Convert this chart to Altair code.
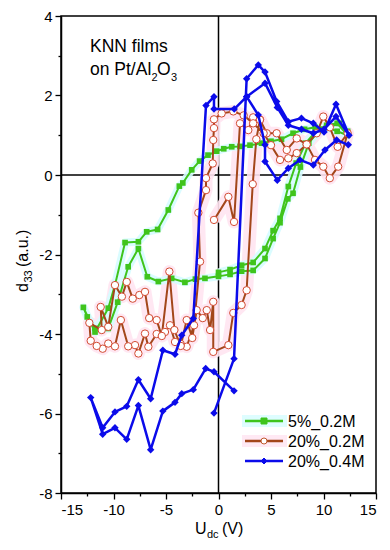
import altair as alt
import pandas as pd

# ---------------- data ----------------
# 5%_0.2M (green squares)
green_x = [0.0, 1.1, 2.2, 3.3, 4.43, 5.2, 5.86, 6.65, 7.4, 8.3, 9.3, 10.3, 11.3, 12.3,
           11.3, 10.3, 9.2, 8.2, 7.1, 6.0, 5.0, 4.1, 3.0, 2.05, 1.26, 0.5, -0.17, -1.0, -1.8,
           -2.55, -3.4, -3.73, -4.78, -5.8, -6.84, -7.63, -8.9, -9.86, -10.5, -11.76, -12.87,
           -12.5, -11.76, -10.5, -9.6, -8.6, -7.63, -6.78, -5.73, -4.46, -3.2, -2.2, -1.29,
           0.0, 1.1, 2.2, 3.3, 4.43, 5.2, 5.86, 6.6, 7.1, 7.8, 8.6, 9.5, 10.5, 11.5, 12.3]
green_y = [-2.45, -2.38, -2.27, -2.2, -1.85, -1.4, -1.09, -0.29, 0.3, 0.8, 1.1, 1.25, 1.3, 1.0,
           1.1, 1.2, 1.2, 1.15, 1.05, 0.9, 0.85, 0.8, 0.75, 0.72, 0.71, 0.66, 0.6, 0.5, 0.35,
           0.13, -0.2, -0.28, -0.88, -1.37, -1.43, -1.68, -1.7, -2.77, -3.35, -3.95, -3.33,
           -3.57, -3.86, -3.86, -3.2, -2.31, -1.85, -2.56, -2.68, -2.6, -2.7, -2.62, -2.6,
           -2.55, -2.5, -2.42, -2.4, -2.1, -1.6, -1.2, -0.6, -0.46, 0.2, 0.8, 1.1, 1.2, 1.3, 1.1]

# 20%_0.2M (open circles)
brown_x = [-0.43, 0.94, 1.48, 2.05, 2.84, 3.3, 3.95, 4.6, 5.54, 6.5, 7.45, 8.4, 9.35, 9.98, 10.6, 11.35, 12.3,
           11.4, 10.6, 9.98, 9.19, 8.4, 7.45, 6.65, 5.86, 5.0, 4.3, 3.3, 2.4, 1.41, 0.3, -0.43, -0.43,
           -0.5, -0.55, -1.19, -1.19, -1.92, -1.76, -2.33, -3.03, -3.6, -4.14, -4.62, -5.1, -5.89,
           -6.68, -7.0, -7.63, -7.95, -8.6, -9.3, -9.86, -10.5, -11.03, -11.6, -12.17, -12.3,
           -11.12, -11.22, -10.5, -9.86, -9.2, -8.74, -8.17, -7.54, -7.0, -6.6, -5.89, -5.4, -4.68,
           -4.2, -3.6, -3.03, -2.5, -2.08, -1.5, -1.12, -0.8, -0.5, -0.5, 0.94, 1.41, 2.2, 2.68,
           3.26, 3.6, 3.95]
brown_y = [-1.13, -0.55, -1.18, 1.3, 1.13, 1.45, 1.39, 1.05, 1.05, 0.63, 0.92, 0.77, 1.05, 1.47, 1.2, 0.71, 1.05,
           0.21, -0.08, 0.21, 0.38, 0.77, 0.55, 0.42, 0.38, 0.75, 1.05, 1.3, 1.5, 1.6, 1.55, 1.4, 1.18,
           0.88, 0.29, -0.08, -0.38, -0.95, -2.18, -3.78, -4.32, -4.25, -4.2, -3.78, -3.95, -4.0,
           -4.32, -3.99, -4.49, -4.28, -4.31, -3.65, -4.31, -4.24, -4.37, -4.3, -4.17, -3.72,
           -3.9, -3.32, -3.82, -2.77, -3.06, -2.69, -3.11, -3.02, -2.94, -3.6, -3.65, -4.05, -2.43,
           -3.9, -4.3, -3.65, -4.1, -3.4, -3.6, -3.4, -3.9, -3.19, -4.45, -4.28, -3.47, -3.27, -2.9,
           -0.23, 0.9, 1.39]

# 20%_0.4M (filled diamonds)
blue_x = [-0.43, 1.48, 2.68, 3.79, 4.43, 5.54, 6.65, 7.9, 9.03, 10.05, 11.19, 12.43,
          11.19, 10.05, 9.03, 7.9, 6.65, 5.6, 4.43, 2.68, 1.5, -0.43, -0.43, -1.19, -2.4, -3.5,
          -4.14, -5.3, -6.46, -7.63, -8.74, -9.86, -11.03, -12.17, -11.03, -9.86, -8.74, -7.63,
          -6.46, -5.3, -4.14, -3.5, -2.4, -1.22, -0.43, 1.48,
          2.68, 3.79, 4.43, 4.43, 5.6, 6.65, 7.76, 9.03, 10.14, 11.25, 12.36]
blue_y = [-5.99, -4.62, 2.42, 2.77, 2.59, 1.85, 1.34, 1.43, 1.3, 1.08, 1.78, 1.0,
          1.47, 1.15, 1.05, 1.15, 1.25, 1.7, 2.31, 1.97, 1.66, 1.66, 1.97, 1.75, -3.61, -4.03,
          -4.51, -4.41, -5.63, -5.15, -5.82, -5.96, -6.36, -5.6, -6.52, -6.36, -6.65, -5.8,
          -6.91, -5.94, -5.72, -5.5, -5.4, -4.87, -4.95, -5.43,
          1.97, 1.51, 0.76, 0.34, -0.13, 0.17, 0.38, 0.25, 0.63, 0.88, 0.76]
blue_seg = [0] * 46 + [1] * 11

legend_labels = ["5%_0.2M", "20%_0.2M", "20%_0.4M"]
x_major = [-15, -10, -5, 0, 5, 10, 15]
y_major = [-8, -6, -4, -2, 0, 2, 4]

# ---------------- tables ----------------
def frame(xs, ys, segs=None):
    return pd.DataFrame({"x": xs, "y": ys, "i": list(range(len(xs))),
                         "seg": segs if segs is not None else [0] * len(xs)})

g_df = frame(green_x, green_y)
r_df = frame(brown_x, brown_y)
b_df = frame(blue_x, blue_y, blue_seg)

x_vals = sorted(set(x_major + [(a + b) / 2 for a, b in zip(x_major[:-1], x_major[1:])]))
y_vals = sorted(set(y_major + [(a + b) / 2 for a, b in zip(y_major[:-1], y_major[1:])]))

FONT = "Liberation Sans"
x_axis = alt.Axis(values=x_vals, title=None, grid=False,
                  labelExpr="datum.value % 5 == 0 ? '' + datum.value : ''",
                  tickSize={"condition": {"test": "datum.value % 5 != 0", "value": 3}, "value": 6},
                  labelPadding=3, labelFontSize=15, labelFont=FONT, labelColor="black",
                  domainColor="black", domainWidth=1.5, tickColor="black", tickWidth=1.3)
y_axis = alt.Axis(values=y_vals, title=None, grid=False,
                  labelExpr="datum.value % 2 == 0 ? '' + datum.value : ''",
                  tickSize={"condition": {"test": "datum.value % 2 != 0", "value": 3}, "value": 6},
                  labelPadding=3, labelFontSize=15, labelFont=FONT, labelColor="black",
                  domainColor="black", domainWidth=1.5, tickColor="black", tickWidth=1.3)

X = alt.X("x:Q", scale=alt.Scale(domain=[-15, 15], nice=False, zero=False), axis=x_axis)
Y = alt.Y("y:Q", scale=alt.Scale(domain=[-8, 4], nice=False, zero=False), axis=y_axis)

GREEN = "#3fc41c"
BROWN = "#a3461a"
BLUE = "#0b0bea"
PINK = "#ffe4f1"
CYAN = "#d6fcff"

def line(df, color, width, opacity=1.0):
    return alt.Chart(df).mark_line(color=color, strokeWidth=width, opacity=opacity,
                                   strokeJoin="round").encode(
        x=X, y=Y, order="i:Q", detail="seg:N")

layers = []
# zero cross lines
layers.append(alt.Chart(pd.DataFrame({"x": [0]})).mark_rule(color="black", strokeWidth=1.5).encode(x=X))
layers.append(alt.Chart(pd.DataFrame({"y": [0]})).mark_rule(color="black", strokeWidth=1.5).encode(y=Y))
# halos
layers.append(line(r_df, PINK, 13, 0.9))
layers.append(line(g_df, CYAN, 8, 0.9))
# green
layers.append(line(g_df, GREEN, 2))
layers.append(alt.Chart(g_df).mark_point(shape="square", filled=True, color=GREEN, size=32, opacity=1).encode(x=X, y=Y))
# brown
layers.append(line(r_df, BROWN, 2))
layers.append(alt.Chart(r_df).mark_point(shape="circle", filled=True, fill="white", stroke="#d24a32",
                                          strokeWidth=1, size=55, opacity=1).encode(x=X, y=Y))
# blue
layers.append(line(b_df, BLUE, 2.5))
layers.append(alt.Chart(b_df).mark_point(shape="diamond", filled=True, color=BLUE, size=55, opacity=1).encode(x=X, y=Y))

# ---------------- custom legend ----------------
styles = [
    dict(color=GREEN, halo=CYAN, shape="square", fill=GREEN, stroke=GREEN),
    dict(color=BROWN, halo=PINK, shape="circle", fill="white", stroke="#c05a30"),
    dict(color=BLUE, halo=None, shape="diamond", fill=BLUE, stroke=BLUE),
]
for k, lab in enumerate(legend_labels):
    st = styles[k]
    row_y = 405 + 20 * k
    ldf = pd.DataFrame({"label": [lab]})
    base = alt.Chart(ldf)
    if st["halo"]:
        layers.append(base.mark_rule(color=st["halo"], strokeWidth=12, opacity=0.8).encode(
            x=alt.value(181), x2=alt.value(226), y=alt.value(row_y)))
    layers.append(base.mark_rule(color=st["color"], strokeWidth=2.5).encode(
        x=alt.value(184), x2=alt.value(222), y=alt.value(row_y)))
    layers.append(base.mark_point(shape=st["shape"], filled=True, fill=st["fill"], stroke=st["stroke"],
                                  strokeWidth=1, size=36, opacity=1).encode(
        x=alt.value(203), y=alt.value(row_y)))
    layers.append(base.mark_text(align="left", baseline="middle", font=FONT, fontSize=16, color="black").encode(
        x=alt.value(227), y=alt.value(row_y + 1), text="label:N"))

# ---------------- annotation & axis titles ----------------
def txt(s, x, y, size, angle=0, baseline="alphabetic"):
    kw = dict(align="left", baseline=baseline, font=FONT, fontSize=size, color="black")
    if angle:
        kw["angle"] = angle
    return alt.Chart(pd.DataFrame({"t": [s]})).mark_text(**kw).encode(
        x=alt.value(x), y=alt.value(y), text="t:N")

layers += [
    txt("KNN films", 29, 36, 17.5),
    txt("on Pt/Al", 29, 59, 17.5),
    txt("2", 90.5, 65, 11),
    txt("O", 96, 59, 17.5),
    txt("3", 110, 65, 11),
    # x title: U_dc (V)
    txt("U", 134, 518, 16),
    txt("dc", 146, 522, 11),
    txt("(V)", 161, 518, 16),
    # y title: d_33 (a.u.)
    txt("d", -33, 276, 16, angle=270),
    txt("33", -29, 266.5, 11, angle=270),
    txt("(a.u.)", -33, 251, 16, angle=270),
]

chart = alt.layer(*layers).properties(
    width=315, height=477,
    autosize=alt.AutoSizeParams(type="none"),
    padding={"left": 53, "top": 8, "right": 6, "bottom": 49},
).configure_view(stroke="black", strokeWidth=1.5)

chart.save("out.html", embed_options={"renderer": "svg", "actions": False})
